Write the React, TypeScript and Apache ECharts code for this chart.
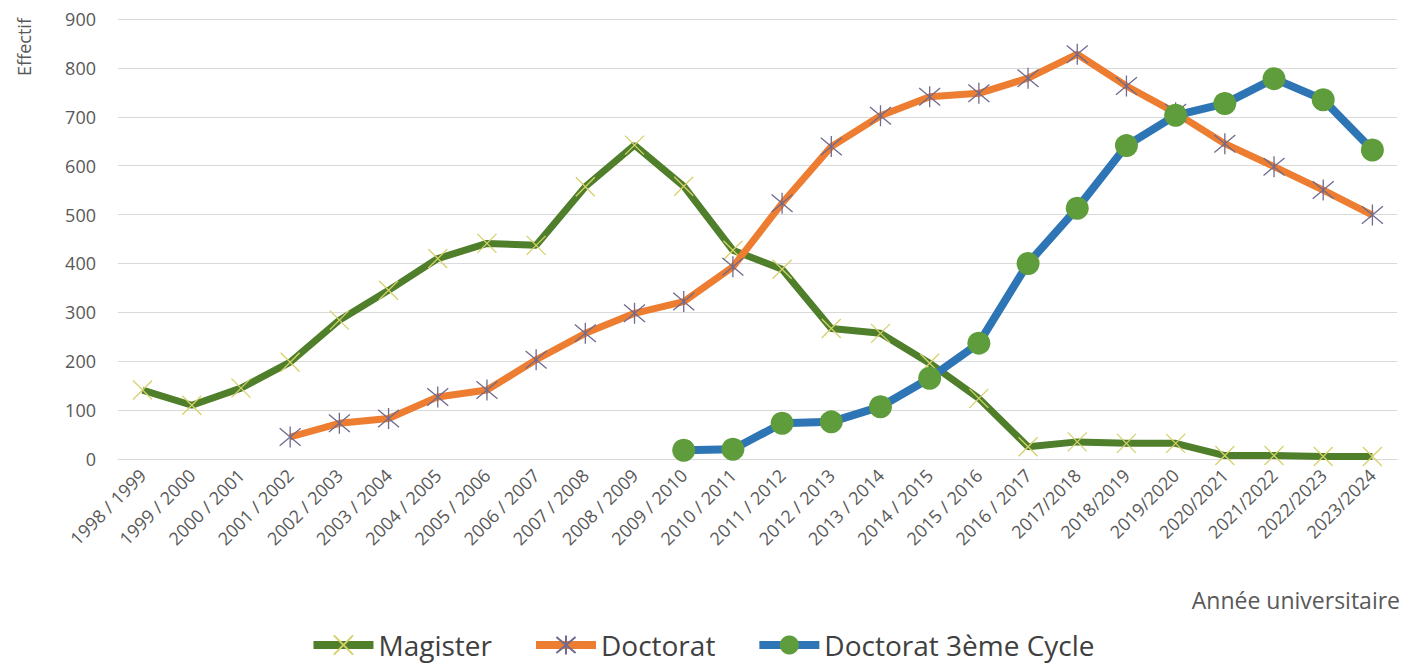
import React, { useEffect, useRef } from "react";
import * as echarts from "echarts";

const categories = [
  "1998 / 1999", "1999 / 2000", "2000 / 2001", "2001 / 2002", "2002 / 2003",
  "2003 / 2004", "2004 / 2005", "2005 / 2006", "2006 / 2007", "2007 / 2008",
  "2008 / 2009", "2009 / 2010", "2010 / 2011", "2011 / 2012", "2012 / 2013",
  "2013 / 2014", "2014 / 2015", "2015 / 2016", "2016 / 2017", "2017/2018",
  "2018/2019", "2019/2020", "2020/2021", "2021/2022", "2022/2023", "2023/2024",
];

const magister = [
  141, 110, 145, 198, 284, 345, 410, 441, 437, 557, 642, 558, 427, 388, 267,
  257, 196, 124, 25, 35, 32, 32, 7, 7, 5, 5,
];

const doctorat = [
  null, null, null, 45, 73, 83, 127, 141, 203, 257, 298, 322, 393, 523, 639,
  702, 741, 748, 779, 828, 763, 708, 645, 598, 550, 499,
];

const doctorat3 = [
  null, null, null, null, null, null, null, null, null, null, null, 18, 20, 73,
  76, 107, 165, 237, 400, 513, 641, 703, 727, 778, 735, 632,
];

const yTicks = { min: 0, max: 900, interval: 100 };

const FONT = "'Open Sans', 'Noto Sans', sans-serif";

export default function App() {
  const ref = useRef<HTMLDivElement>(null);
  useEffect(() => {
    if (!ref.current) return;
    const chart = echarts.init(ref.current, null, { renderer: "svg" });
    chart.setOption({
      animation: false,
      backgroundColor: "#ffffff",
      grid: { left: 118, right: 7, top: 19, bottom: 205 },
      xAxis: {
        type: "category",
        data: categories,
        boundaryGap: true,
        axisLine: { show: true, lineStyle: { color: "#d9d9d9", width: 1 } },
        axisTick: { show: false },
        axisLabel: {
          interval: 0,
          rotate: 45,
          margin: 13,
          fontSize: 18,
          color: "#595959",
          fontFamily: FONT,
        },
      },
      yAxis: {
        type: "value",
        min: yTicks.min,
        max: yTicks.max,
        interval: yTicks.interval,
        axisLine: { show: false },
        axisTick: { show: false },
        splitLine: { lineStyle: { color: "#d9d9d9", width: 1 } },
        axisLabel: {
          margin: 22,
          fontSize: 18,
          color: "#595959",
          fontFamily: FONT,
        },
      },
      legend: {
        left: "center",
        top: 626,
        itemWidth: 60,
        itemHeight: 24,
        itemGap: 40,
        lineStyle: { width: 8 },
        textStyle: { fontSize: 28, color: "#404040", fontFamily: FONT },
        data: ["Magister", "Doctorat", "Doctorat 3ème Cycle"],
      },
      graphic: [
        {
          type: "text",
          x: 24,
          y: 47,
          rotation: Math.PI / 2,
          style: {
            text: "Effectif",
            fontSize: 18,
            fill: "#595959",
            fontFamily: FONT,
            align: "center",
            verticalAlign: "middle",
          },
        },
        {
          type: "text",
          right: 4,
          top: 588,
          style: {
            text: "Année universitaire",
            fontSize: 23,
            fill: "#595959",
            fontFamily: FONT,
          },
        },
      ],
      series: [
        {
          name: "Magister",
          type: "line",
          data: magister,
          connectNulls: false,
          symbol: "path://M0,0L10,10M10,0L0,10",
          symbolSize: 19,
          lineStyle: { color: "#4f7f2a", width: 7 },
          itemStyle: { color: "#d6d16a", borderColor: "#d6d16a", borderWidth: 1.3 },
          z: 2,
        },
        {
          name: "Doctorat",
          type: "line",
          data: doctorat,
          symbol: "path://M0,0L10,10M10,0L0,10M5,-1L5,11",
          symbolSize: 21,
          lineStyle: { color: "#ed7d31", width: 7 },
          itemStyle: { color: "#6f6a8e", borderColor: "#6f6a8e", borderWidth: 1.3 },
          z: 3,
        },
        {
          name: "Doctorat 3ème Cycle",
          type: "line",
          data: doctorat3,
          symbol: "circle",
          symbolSize: 23,
          lineStyle: { color: "#2e75b6", width: 8 },
          itemStyle: { color: "#5e9c3c", borderWidth: 0 },
          z: 4,
        },
      ],
    });
    return () => chart.dispose();
  }, []);
  return (
    <div
      ref={ref}
      style={{ position: "absolute", left: 0, top: 0, width: 1404, height: 664 }}
    />
  );
}
